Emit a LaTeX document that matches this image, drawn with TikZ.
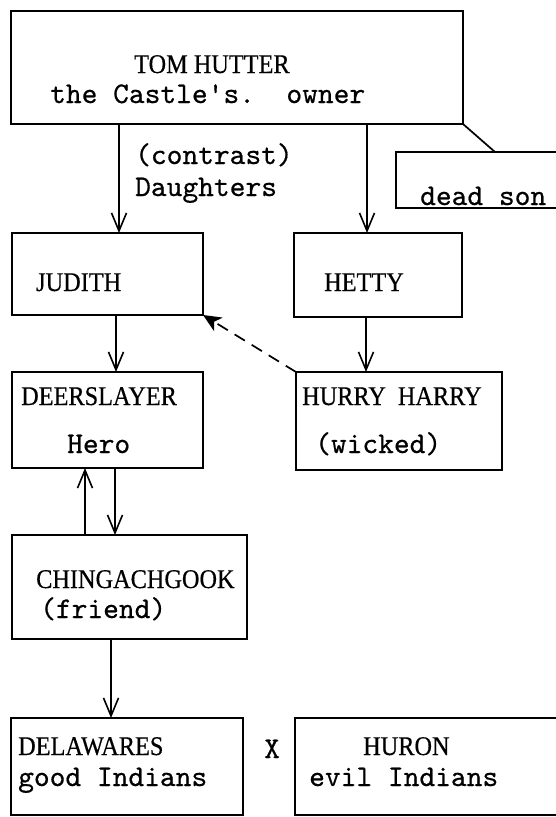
\documentclass[tikz,border=0pt]{standalone}
\usepackage{fontspec}
\setmainfont{Liberation Serif}[FakeStretch=0.9, FakeBold=0.4]
\newfontfamily\twfont{lmmono10-regular}[Extension=.otf, FakeBold=0.5]
\usetikzlibrary{arrows.meta}
\begin{document}
\begin{tikzpicture}[x=1pt,y=-1pt,
  box/.style={draw, line width=1.9pt, inner sep=0pt, outer sep=0pt, anchor=north west},
  caps/.style={font=\fontsize{27}{30}\selectfont, inner sep=0pt, anchor=base west},
  tw/.style={font=\fontsize{30}{32}\selectfont\twfont, inner sep=0pt, anchor=base west},
  arr/.style={line width=1.5pt, -{Straight Barb[length=18pt,width=15pt,line width=1.6pt]}},
  darr/.style={line width=1.7pt, dash pattern=on 12pt off 8pt, -{Stealth[length=18pt,width=16pt,inset=5pt]}}
]
\useasboundingbox (0,0) rectangle (556,817);
\fill[white] (0,0) rectangle (556,817);

% boxes
\node[box, minimum width=452pt, minimum height=113pt] (tom) at (11,11) {};
\node[box, minimum width=174pt, minimum height=56pt] (deadson) at (396,152) {};
\node[box, minimum width=191pt, minimum height=82pt] (judith) at (12,233) {};
\node[box, minimum width=168pt, minimum height=84pt] (hetty) at (294,233) {};
\node[box, minimum width=191pt, minimum height=96pt] (deer) at (12,372) {};
\node[box, minimum width=206pt, minimum height=98pt] (hurry) at (296,372) {};
\node[box, minimum width=235pt, minimum height=104pt] (ching) at (12,535) {};
\node[box, minimum width=232pt, minimum height=97pt] (dela) at (11,718) {};
\node[box, minimum width=275pt, minimum height=97pt] (huron) at (295,718) {};

% texts
\node[caps] (tTom) at (134,73) {TOM HUTTER};
\node[tw] (tOwner) at (50,103) {the Castle's.\ \ owner};
\node[tw] (tContrast) at (135,164) {(contrast)};
\node[tw] (tDaughters) at (135,196) {Daughters};
\node[tw] (tDead) at (420,205) {dead son};
\node[caps] (tJudith) at (36,291) {JUDITH};
\node[caps] (tHetty) at (324,291) {HETTY};
\node[caps] (tDeer) at (21,405) {DEERSLAYER};
\node[tw] (tHero) at (67,453) {Hero};
\node[caps] (tHurry) at (302,405) {HURRY\hspace{12pt}HARRY};
\node[tw] (tWicked) at (315,453) {(wicked)};
\node[caps] (tChing) at (36,588) {CHINGACHGOOK};
\node[tw] (tFriend) at (40,618) {(friend)};
\node[caps] (tDela) at (18,755) {DELAWARES};
\node[tw] (tGood) at (18,786) {good Indians};
\node[tw] (tX) at (264,758) {X};
\node[caps] (tHuron) at (363,755) {HURON};
\node[tw] (tEvil) at (309,786) {evil Indians};

% connector x positions
\coordinate (xa) at (119,0);
\coordinate (xb) at (367,0);
\coordinate (xc) at (116,0);
\coordinate (xd) at (366,0);
\coordinate (xe) at (85,0);
\coordinate (xf) at (115,0);
\coordinate (xg) at (111,0);
\coordinate (xh) at (495,0);

% connectors
\draw[arr] (tom.south -| xa) -- (judith.north -| xa);
\draw[arr] (tom.south -| xb) -- (hetty.north -| xb);
\draw[line width=1.7pt] (tom.south east) -- (deadson.north -| xh);
\draw[arr] (judith.south -| xc) -- (deer.north -| xc);
\draw[arr] (hetty.south -| xd) -- (hurry.north -| xd);
\draw[darr] (hurry.north west) -- (judith.south east);
\draw[arr] (ching.north -| xe) -- (deer.south -| xe);
\draw[arr] (deer.south -| xf) -- (ching.north -| xf);
\draw[arr] (ching.south -| xg) -- (dela.north -| xg);
\end{tikzpicture}
\end{document}
